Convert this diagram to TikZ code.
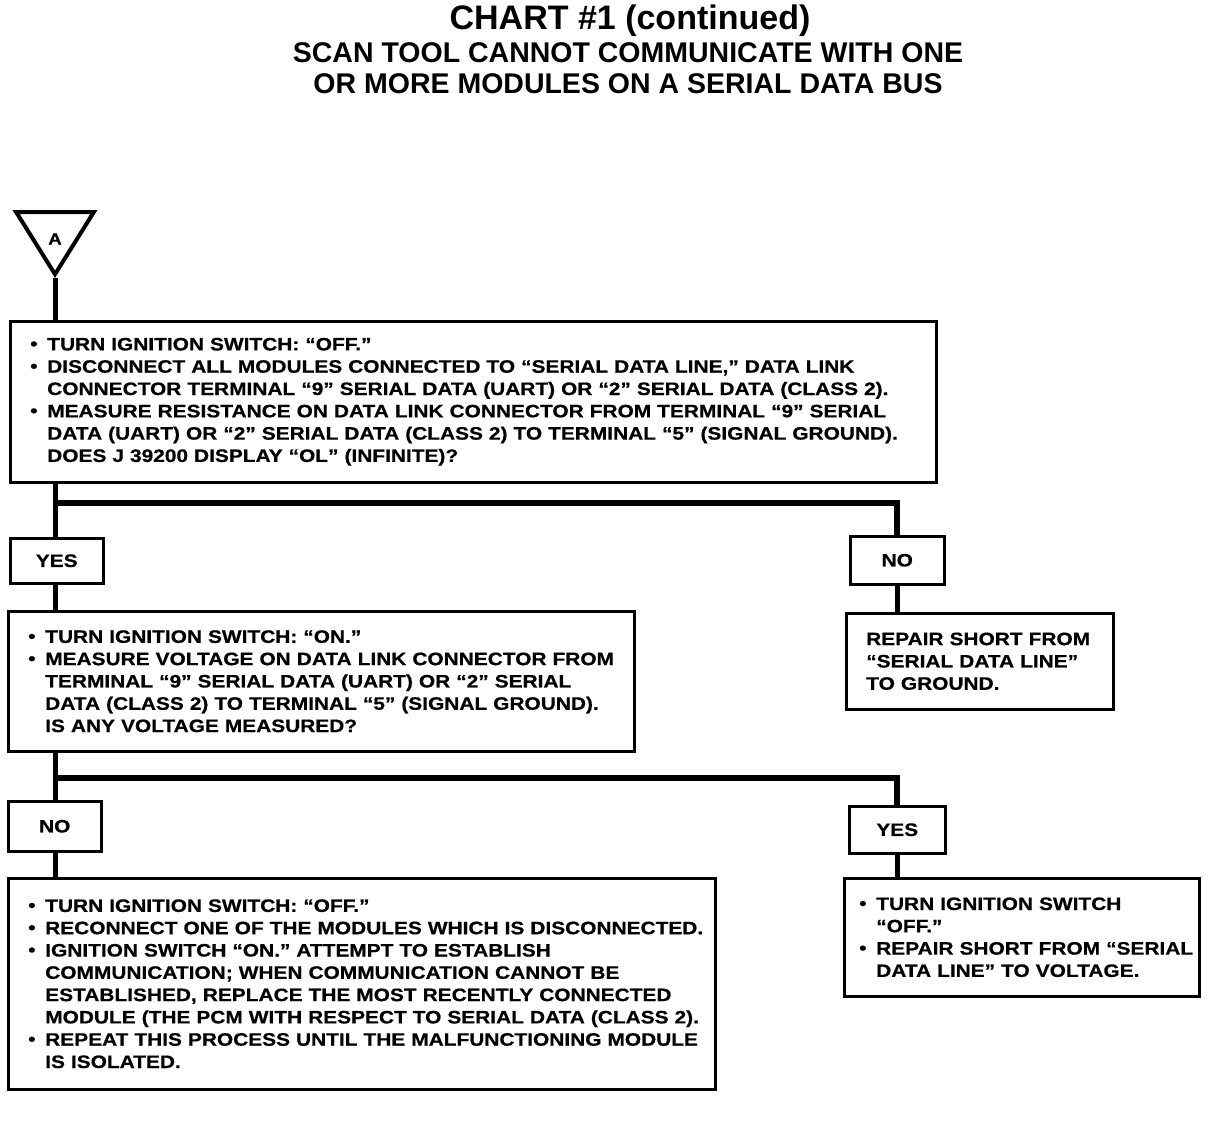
\documentclass[tikz,border=0pt]{standalone}
\usepackage{fontspec}
\setmainfont{Liberation Sans}
\newfontfamily\boxfont{Liberation Sans}[Ligatures=TeX, FakeStretch=1.16, BoldFeatures={FakeBold=0.6}]
\usetikzlibrary{shapes.geometric}

\newcommand{\pad}{\hspace*{10pt}}
\newcommand{\bul}{\pad\makebox[17pt][l]{\raisebox{0.5pt}{\textbullet}}}
\newcommand{\ind}{\pad\hspace*{17pt}}

\begin{document}
\begin{tikzpicture}[x=1pt, y=-1pt,
    font=\boxfont\bfseries\fontsize{18}{22.3}\selectfont,
    box/.style={draw, line width=2.5pt, anchor=north west, align=left,
      inner xsep=10pt, inner ysep=0pt},
    ans/.style={draw, line width=2.5pt, anchor=north west, minimum width=93pt,
      minimum height=45pt, inner sep=0pt},
    link/.style={line width=5pt},
    bar/.style={line width=6pt}]
  \useasboundingbox (0,0) rectangle (1216,1120);
  % heading
  \node[font=\bfseries\fontsize{34}{34}\selectfont] (title) at (630,21) {CHART \#1 (continued)};
  \node[font=\bfseries\fontsize{28.5}{31}\selectfont, align=center] (sub) at (628,68)
    {SCAN TOOL CANNOT COMMUNICATE WITH ONE\\ OR MORE MODULES ON A SERIAL DATA BUS};
  % entry point
  \node[draw, line width=4pt, isosceles triangle, shape border rotate=-90,
    isosceles triangle apex angle=64, minimum height=62pt, inner sep=0pt,
    anchor=apex] (entry) at (55,278) {};
  \node[font=\boxfont\bfseries\fontsize{16}{16}\selectfont] (lblA) at (55,239) {A};
  % first test
  \node[box, minimum width=926pt, minimum height=161pt, text width=906pt] (ohm) at (9,320)
    {\bul TURN IGNITION SWITCH: ``OFF.''\\
     \bul DISCONNECT ALL MODULES CONNECTED TO ``SERIAL DATA LINE,'' DATA LINK\\
     \ind CONNECTOR TERMINAL ``9'' SERIAL DATA (UART) OR ``2'' SERIAL DATA (CLASS 2).\\
     \bul MEASURE RESISTANCE ON DATA LINK CONNECTOR FROM TERMINAL ``9'' SERIAL\\
     \ind DATA (UART) OR ``2'' SERIAL DATA (CLASS 2) TO TERMINAL ``5'' (SIGNAL GROUND).\\
     \ind DOES J 39200 DISPLAY ``OL'' (INFINITE)?};
  \node[ans] (yes1) at (9,537) {YES};
  \node[ans, minimum width=94pt, minimum height=48pt] (no1) at (849,535) {NO};
  % second test
  \node[box, minimum width=626pt, minimum height=140pt, text width=606pt] (volt) at (7,610)
    {\bul TURN IGNITION SWITCH: ``ON.''\\
     \bul MEASURE VOLTAGE ON DATA LINK CONNECTOR FROM\\
     \ind TERMINAL ``9'' SERIAL DATA (UART) OR ``2'' SERIAL\\
     \ind DATA (CLASS 2) TO TERMINAL ``5'' (SIGNAL GROUND).\\
     \ind IS ANY VOLTAGE MEASURED?};
  \node[box, minimum width=267pt, minimum height=96pt, text width=247pt] (gnd) at (845,612)
    {\pad REPAIR SHORT FROM\\ \pad ``SERIAL DATA LINE''\\ \pad TO GROUND.};
  \node[ans, minimum height=50pt] (no2) at (7,800) {NO};
  \node[ans, minimum width=96pt, minimum height=47pt] (yes2) at (848,805) {YES};
  % results
  \node[box, minimum width=707pt, minimum height=211pt, text width=687pt] (iso) at (7,877)
    {\bul TURN IGNITION SWITCH: ``OFF.''\\
     \bul RECONNECT ONE OF THE MODULES WHICH IS DISCONNECTED.\\
     \bul IGNITION SWITCH ``ON.'' ATTEMPT TO ESTABLISH\\
     \ind COMMUNICATION; WHEN COMMUNICATION CANNOT BE\\
     \ind ESTABLISHED, REPLACE THE MOST RECENTLY CONNECTED\\
     \ind MODULE (THE PCM WITH RESPECT TO SERIAL DATA (CLASS 2).\\
     \bul REPEAT THIS PROCESS UNTIL THE MALFUNCTIONING MODULE\\
     \ind IS ISOLATED.};
  \node[box, inner xsep=5pt, minimum width=355pt, minimum height=118pt, text width=345pt] (vlt) at (843,877)
    {\bul TURN IGNITION SWITCH\\
     \ind ``OFF.''\\
     \bul REPAIR SHORT FROM ``SERIAL\\
     \ind DATA LINE'' TO VOLTAGE.};
  % connectors
  \coordinate (fork1) at (55,503);
  \coordinate (fork2) at (55,778);
  \draw[link] (entry.apex) -- (entry.apex |- ohm.north);
  \draw[link] (entry.apex |- ohm.south) -- (yes1.north -| entry.apex);
  \draw[bar] (fork1) -| (no1.north);
  \draw[link] (yes1.south -| entry.apex) -- (volt.north -| entry.apex);
  \draw[link] (no1.south) -- (no1.south |- gnd.north);
  \draw[link] (entry.apex |- volt.south) -- (no2.north -| entry.apex);
  \draw[bar] (fork2) -| (yes2.north -| no1.south);
  \draw[link] (no2.south -| entry.apex) -- (iso.north -| entry.apex);
  \draw[link] (yes2.south -| no1.south) -- (vlt.north -| no1.south);
\end{tikzpicture}
\end{document}
